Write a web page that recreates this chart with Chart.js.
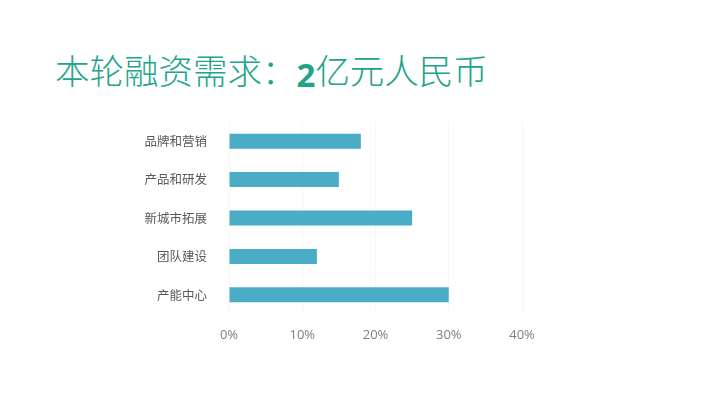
<!DOCTYPE html>
<html>
<head>
<meta charset="utf-8">
<script src="https://cdn.jsdelivr.net/npm/chart.js@4/dist/chart.umd.min.js"></script>
<style>
  html, body { margin: 0; padding: 0; background: #fff; }
  #wrap { position: relative; width: 710px; height: 416px; overflow: hidden; }
  #title {
    position: absolute; left: 55px; top: 45px;
    font-family: "Noto Sans CJK SC", sans-serif; font-weight: 300;
    font-size: 34.5px; line-height: 48px; color: #22a48a; white-space: nowrap;
  }
  #title b { font-family: "Open Sans", "Liberation Sans", sans-serif; font-weight: 700; font-size: 33px; position: relative; top: 3px; }
  #chartBox { position: absolute; left: 0; top: 0; width: 710px; height: 416px; }
</style>
</head>
<body>
<div id="wrap">
  <div id="title">本轮融资需求：<b>2</b>亿元人民币</div>
  <div id="chartBox"><canvas id="chart"></canvas></div>
</div>
<script>
// 数据
const categories = ['品牌和营销', '产品和研发', '新城市拓展', '团队建设', '产能中心'];
const shares = [18, 15, 25, 12, 30];
const xTicks = [0, 10, 20, 30, 40];

const labelFont = { family: '"Noto Sans CJK SC", sans-serif', size: 12.5 };

new Chart(document.getElementById('chart'), {
  type: 'bar',
  data: {
    labels: categories,
    datasets: [{
      data: shares,
      backgroundColor: '#4bacc6',
      borderWidth: 0,
      categoryPercentage: 1,
      barPercentage: 0.39
    }]
  },
  options: {
    indexAxis: 'y',
    responsive: true,
    maintainAspectRatio: false,
    animation: false,
    layout: { padding: { left: 0, right: 188, top: 122, bottom: 0 } },
    plugins: { legend: { display: false }, tooltip: { enabled: false } },
    scales: {
      x: {
        min: 0,
        max: 40,
        afterBuildTicks: scale => { scale.ticks = xTicks.map(v => ({ value: v })); },
        ticks: {
          callback: v => v + '%',
          color: '#7f7f7f',
          font: { family: '"Open Sans", sans-serif', size: 13 },
          padding: 13
        },
        grid: { color: '#f6f6f6', drawTicks: false },
        border: { display: false },
        afterFit: scale => { scale.height = 102; }
      },
      y: {
        ticks: { color: '#595959', font: labelFont, padding: 14 },
        grid: { display: false },
        border: { display: false },
        afterFit: scale => { scale.width = 229; }
      }
    }
  }
});
</script>
</body>
</html>
